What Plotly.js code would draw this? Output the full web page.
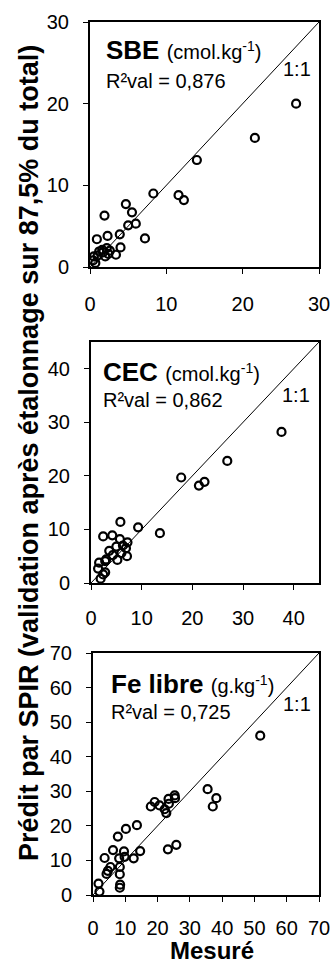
<!DOCTYPE html>
<html>
<head>
<meta charset="utf-8">
<script src="https://cdn.plot.ly/plotly-3.0.1.min.js"></script>
<style>html,body{margin:0;padding:0;background:#fff;}#chart{width:333px;height:963px;}</style>
</head>
<body>
<div id="chart"></div>
<script>
// ---- Data ----
const sbeMeasured  = [27.0,21.6,14.0,8.3,11.6,12.3,4.7,5.5,1.9,6.0,5.0,3.9,2.3,0.9,7.2,4.0,2.2,1.6,1.2,2.6,3.4,2.0,1.0,0.5,0.4,0.7,1.7,2.4];
const sbePredicted = [20.0,15.8,13.1,9.0,8.8,8.2,7.7,6.7,6.3,5.3,5.1,4.0,3.8,3.4,3.5,2.4,2.3,2.1,1.9,2.0,1.5,1.3,1.4,1.3,0.8,0.5,1.8,1.6];

const cecMeasured  = [37.6,26.9,17.8,21.3,22.4,13.6,9.3,5.8,2.4,4.2,5.7,7.2,3.6,5.0,6.9,4.3,6.0,7.1,5.2,2.8,1.6,1.4,2.8,2.4,1.9,6.3,3.0];
const cecPredicted = [28.2,22.8,19.7,18.2,18.9,9.3,10.4,11.4,8.7,8.9,8.2,7.6,6.0,6.8,6.5,5.2,5.6,5.0,4.3,4.1,3.8,2.7,2.0,1.6,0.8,7.0,4.4];

const feMeasured   = [51.8,35.5,37.1,38.2,25.8,23.2,25.3,25.4,23.4,23.5,22.7,22.2,19.1,17.9,20.6,13.6,10.2,7.7,14.6,12.6,9.6,6.2,3.6,8.1,9.8,5.4,8.3,4.2,8.3,8.4,8.3,1.7,2.0,4.6];
const fePredicted  = [46.1,30.6,25.6,28.0,14.5,13.2,28.8,28.0,27.8,26.4,23.7,24.8,26.9,25.6,25.9,20.2,19.1,16.9,12.7,10.6,12.6,13.0,10.7,10.6,11.0,8.1,8.1,6.1,6.0,3.0,2.1,3.3,1.0,7.0];

const panelNames = ["SBE", "CEC", "Fe libre"];
const panelUnits = ["(cmol.kg<sup>-1</sup>)", "(cmol.kg<sup>-1</sup>)", "(g.kg<sup>-1</sup>)"];
const r2Labels   = ["R²val = 0,876", "R²val = 0,862", "R²val = 0,725"];
const axisMax    = [30, 45, 70];
const tickSets   = [[0,10,20,30],[0,10,20,30,40],[0,10,20,30,40,50,60,70]];
const yTitle = "Prédit par SPIR (validation après étalonnage sur 87,5% du total)";
const xTitle = "Mesuré";

// ---- Layout helpers ----
const W = 333, H = 963;
const fx = p => p / W;
const fy = p => 1 - p / H;
const FONT = "Liberation Sans, Arial, Helvetica, sans-serif";

const panels = [
  {x0: 90, x1: 319, y0: 22,  y1: 267, textX: 104, nameY: 50,  r2Y: 81,  oneY: 69,  oneX: 313, xStand: 13},
  {x0: 91, x1: 319, y0: 342, y1: 583, textX: 101, nameY: 372, r2Y: 400, oneY: 395, oneX: 312, xStand: 11},
  {x0: 93, x1: 319, y0: 653, y1: 895, textX: 109, nameY: 684, r2Y: 712, oneY: 704, oneX: 313, xStand: 9}
];
const xs = [sbeMeasured, cecMeasured, feMeasured];
const ys = [sbePredicted, cecPredicted, fePredicted];

const traces = [];
const layout = {
  width: W, height: H,
  margin: {l: 0, r: 0, t: 0, b: 0},
  paper_bgcolor: "#fff", plot_bgcolor: "#fff",
  showlegend: false,
  font: {family: FONT, color: "#000"},
  annotations: [],
};

panels.forEach((p, i) => {
  const sx = i === 0 ? "" : String(i + 1);
  const xa = "x" + sx, ya = "y" + sx;
  // 1:1 line
  traces.push({
    x: [0, axisMax[i]], y: [0, axisMax[i]], xaxis: xa, yaxis: ya,
    mode: "lines", type: "scatter", line: {color: "#000", width: 1}, hoverinfo: "skip"
  });
  // points
  traces.push({
    x: xs[i], y: ys[i], xaxis: xa, yaxis: ya,
    mode: "markers", type: "scatter", cliponaxis: false,
    marker: {symbol: "circle-open", size: 8, color: "#000", line: {width: 2.2, color: "#000"}}
  });
  const common = {
    showline: true, mirror: true, linewidth: 2, linecolor: "#000",
    showgrid: false, zeroline: false, ticks: "outside", ticklen: 5, tickwidth: 1, tickcolor: "#000",
    tickfont: {family: FONT, size: 20, color: "#000"}, fixedrange: true
  };
  layout["xaxis" + sx] = Object.assign({}, common, {
    domain: [fx(p.x0), fx(p.x1)], range: [0, axisMax[i]], anchor: ya,
    tickvals: tickSets[i], ticklabelstandoff: p.xStand
  });
  layout["yaxis" + sx] = Object.assign({}, common, {
    domain: [fy(p.y1), fy(p.y0)], range: [0, axisMax[i]], anchor: xa,
    tickvals: tickSets[i], ticklabelstandoff: 10
  });
  layout.annotations.push({
    xref: "paper", yref: "paper", x: fx(p.textX), y: fy(p.nameY), xanchor: "left", yanchor: "middle",
    showarrow: false,
    text: "<b>" + panelNames[i] + "</b> <span style='font-size:20px'>" + panelUnits[i] + "</span>",
    font: {family: FONT, size: 26, color: "#000"}
  });
  layout.annotations.push({
    xref: "paper", yref: "paper", x: fx(p.textX), y: fy(p.r2Y), xanchor: "left", yanchor: "middle",
    showarrow: false, text: r2Labels[i], font: {family: FONT, size: 20, color: "#000"}
  });
  layout.annotations.push({
    xref: "paper", yref: "paper", x: fx(p.oneX), y: fy(p.oneY), xanchor: "right", yanchor: "middle",
    showarrow: false, text: "1:1", font: {family: FONT, size: 20, color: "#000"}
  });
});

layout.annotations.push({
  xref: "paper", yref: "paper", x: fx(29), y: fy(453), xanchor: "center", yanchor: "middle",
  showarrow: false, textangle: -90, text: "<b>" + yTitle + "</b>",
  font: {family: FONT, size: 27, color: "#000"}
});
layout.annotations.push({
  xref: "paper", yref: "paper", x: fx(212), y: fy(950), xanchor: "center", yanchor: "middle",
  showarrow: false, text: "<b>" + xTitle + "</b>",
  font: {family: FONT, size: 24, color: "#000"}
});

Plotly.newPlot("chart", traces, layout, {staticPlot: true, displayModeBar: false});
</script>
</body>
</html>
